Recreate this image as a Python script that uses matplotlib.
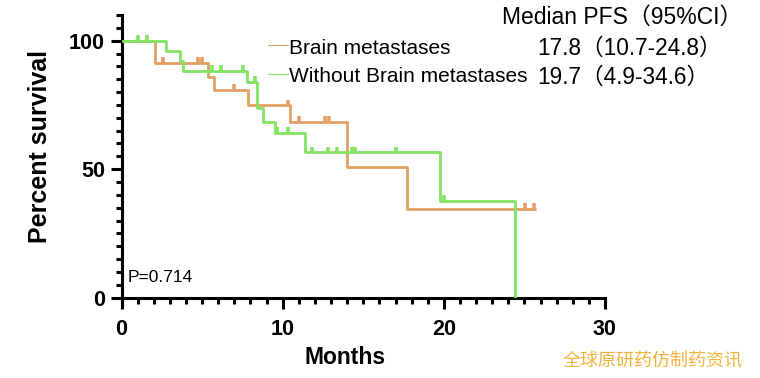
import matplotlib
matplotlib.use("Agg")
import matplotlib.pyplot as plt
from matplotlib.ticker import MultipleLocator

# ---- data ----
bm_times = [0, 2.07, 5.35, 5.75, 7.87, 10.46, 13.98, 17.74]
bm_surv = [100, 91.4, 86.0, 80.7, 74.8, 68.3, 51.0, 34.4]
bm_end = 25.7
bm_censor_t = [2.59, 4.76, 4.97, 6.98, 10.3, 11.0, 12.6, 12.85, 25.05, 25.57]

wo_times = [0, 2.73, 3.62, 3.83, 7.76, 8.4, 8.8, 9.5, 11.4, 19.78, 24.43]
wo_surv = [100, 96.0, 92.0, 88.2, 84.0, 74.0, 68.5, 64.0, 56.5, 37.7, 0]
wo_end = 24.43
wo_censor_t = [1.03, 1.59, 5.59, 6.2, 7.55, 8.25, 9.63, 10.3, 11.8, 12.8,
               13.35, 14.3, 14.5, 17.0, 19.98]

group_names = ["Brain metastases", "Without Brain metastases"]
median_text = ["17.8\uff0810.7-24.8\uff09", "19.7\uff084.9-34.6\uff09"]
header_text = "Median PFS\uff0895%CI\uff09"
p_text = "P=0.714"
x_ticks = [0, 10, 20, 30]
y_ticks = [0, 50, 100]
watermark = "全球原研药仿制药资讯"

C_OR = "#E3A064"
C_GR = "#82E462"

plt.rcParams['font.family'] = ['Liberation Sans', 'Noto Sans CJK SC', 'DejaVu Sans']

fig = plt.figure(figsize=(7.6, 3.78), dpi=100)
ax = fig.add_axes([0.160, 0.2124, 0.636, 0.748])


def surv_at(times, surv, t):
    s = surv[0]
    for ti, si in zip(times, surv):
        if ti <= t:
            s = si
    return s


def draw_curve(times, surv, end, ctimes, color):
    xs = list(times) + [end]
    ys = list(surv) + [surv[-1]]
    ax.step(xs, ys, where='post', color=color, lw=2.0, solid_capstyle='butt', zorder=3)
    for t in ctimes:
        s = surv_at(times, surv, t)
        ax.vlines(t, s, s + 2.3, color=color, lw=2.6, zorder=3)


draw_curve(bm_times, bm_surv, bm_end, bm_censor_t, C_OR)
draw_curve(wo_times, wo_surv, wo_end, wo_censor_t, C_GR)

ax.set_xlim(0, 30)
ax.set_ylim(0, 110)
ax.set_xticks(x_ticks)
ax.set_yticks(y_ticks)
ax.xaxis.set_minor_locator(MultipleLocator(1))
ax.yaxis.set_minor_locator(MultipleLocator(5))
for s in ['top', 'right']:
    ax.spines[s].set_visible(False)
for s in ['left', 'bottom']:
    ax.spines[s].set_linewidth(2.2)
ax.tick_params(which='major', length=8, width=2.2, labelsize=15.5)
ax.tick_params(axis='x', which='major', pad=7)
ax.tick_params(axis='y', which='major', pad=4)
ax.tick_params(which='minor', length=4.5, width=2.2)
for lab in ax.get_xticklabels() + ax.get_yticklabels():
    lab.set_fontweight('bold')

ax.text(0.35, 8, p_text, fontsize=12.5, va='center', ha='left')


def fx(px):
    return px / 760.0


def fy(py):
    return 1 - py / 378.0


fig.text(fx(345), fy(358), "Months", fontsize=16.5, fontweight='bold',
         ha='center', va='center')
fig.text(fx(40), fy(147), "Percent survival", fontsize=18, fontweight='bold',
         ha='center', va='center', rotation=90)

fig.text(fx(502), fy(17), header_text, fontsize=16.5, va='center', ha='left')
for i, (name, col, yy) in enumerate(zip(group_names, [C_OR, C_GR], [48, 77])):
    fig.add_artist(plt.Line2D([fx(268), fx(288)], [fy(yy - 3), fy(yy - 3)],
                              color=col, lw=0.8))
    fig.text(fx(289), fy(yy), name, fontsize=15, va='center', ha='left')
    fig.text(fx(537), fy(yy), median_text[i], fontsize=16.3, va='center', ha='left')

fig.text(fx(563), fy(361), watermark, fontsize=13, color="#F0B43C",
         family=['Noto Sans CJK SC'], va='center', ha='left')

fig.savefig("out.png", dpi=100)
